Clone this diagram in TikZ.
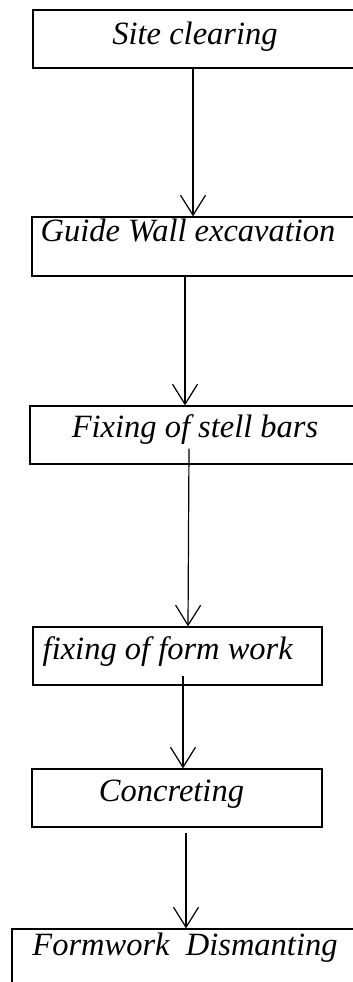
\documentclass[tikz,border=0pt]{standalone}
\usepackage{fontspec}
\setmainfont{Liberation Serif}
\usetikzlibrary{positioning,arrows.meta}

\tikzset{
  stage/.style={draw, rectangle, line width=1.3pt, inner sep=0pt,
    minimum height=58pt, text height=19pt, text depth=13pt,
    font=\fontsize{32.5}{38}\selectfont},
  flow/.style={line width=1.2pt, -{Straight Barb[length=20pt,width=25pt,line width=1.2pt]}}
}

\begin{document}
\begin{tikzpicture}[x=1pt,y=-1pt]
    \useasboundingbox (0,0) rectangle (353,982);
    \clip (0,0) rectangle (353,982);

    % koraki
    \draw (195,39) node[stage, minimum width=324pt, text height=22pt, text depth=10pt] (site) {\textit{Site clearing}};
    \draw (197,246.5) node[stage, minimum width=330pt, minimum height=59pt, text height=12pt, text depth=22pt] (guide) {\textit{Guide Wall excavation}\hspace*{18pt}};
    \draw (195,435) node[stage, minimum width=330pt, text height=18pt, text depth=14pt] (bars) {\textit{Fixing of stell bars}};
    \draw (177.5,656) node[stage, minimum width=289pt] (form) {\textit{fixing of form work}\hspace*{19pt}};
    \draw (177,798) node[stage, minimum width=290pt] (conc) {\textit{Concreting}\hspace*{11pt}};
    \draw (185,962) node[stage, minimum width=346pt, minimum height=66pt, text height=15pt, text depth=29pt] (dism) {\textit{Formwork\ \ Dismanting}};

    % povezave
    \draw [flow] ([xshift=-2pt]site.south) -- ([xshift=-4pt]guide.north);
    \draw [flow] ([xshift=-12pt]guide.south) -- ([xshift=-10pt]bars.north);
    \draw [flow] ([xshift=-6pt,yshift=16pt]bars.south) -- ([xshift=10.5pt]form.north);
    \draw [flow] ([xshift=5.5pt,yshift=10pt]form.south) -- ([xshift=6pt]conc.north);
    \draw [flow] ([xshift=9pt,yshift=-5pt]conc.south) -- ([xshift=1pt]dism.north);
  \end{tikzpicture}
\end{document}
